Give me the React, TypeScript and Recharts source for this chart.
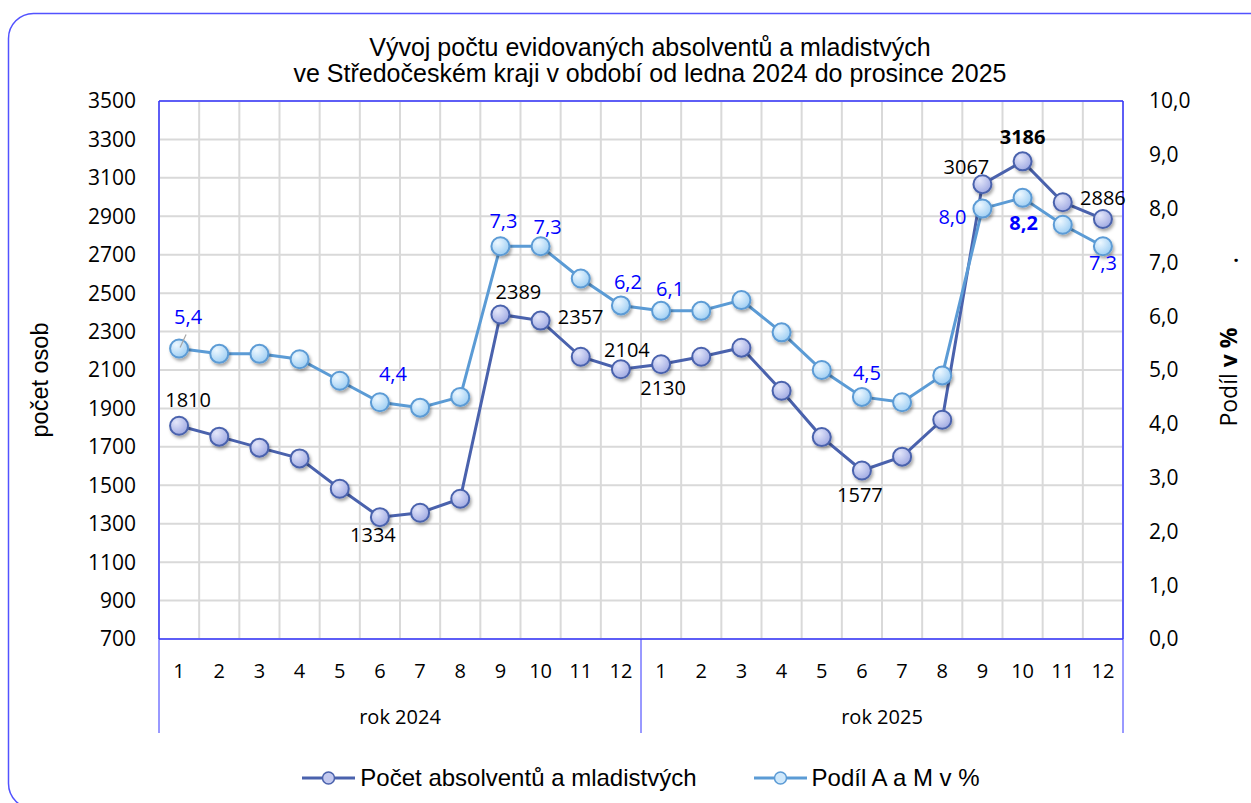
import React from 'react'
import {
  ComposedChart,
  Line,
  XAxis,
  YAxis,
  CartesianGrid,
  Legend,
  LabelList,
  ReferenceLine,
  Customized,
} from 'recharts'

// data
const months = ['1', '2', '3', '4', '5', '6', '7', '8', '9', '10', '11', '12', '1', '2', '3', '4', '5', '6', '7', '8', '9', '10', '11', '12']
const years = ['rok 2024', 'rok 2025']
const graduates = [1810, 1753, 1696, 1640, 1482, 1334, 1357, 1430, 2389, 2357, 2169, 2104, 2130, 2169, 2216, 1992, 1751, 1577, 1649, 1841, 3067, 3186, 2973, 2886]
const sharePct = [5.4, 5.3, 5.3, 5.2, 4.8, 4.4, 4.3, 4.5, 7.3, 7.3, 6.7, 6.2, 6.1, 6.1, 6.3, 5.7, 5.0, 4.5, 4.4, 4.9, 8.0, 8.2, 7.7, 7.3]
const countTicks = [700, 900, 1100, 1300, 1500, 1700, 1900, 2100, 2300, 2500, 2700, 2900, 3100, 3300, 3500]
const shareTicks = [0, 1, 2, 3, 4, 5, 6, 7, 8, 9, 10]

const chartData = months.map((m, i) => ({ idx: i, month: m, count: graduates[i], share: sharePct[i] }))

// label placement (dx, dy from the marker), bold flag
const countLabelPos: Record<number, [number, number, boolean?]> = {
  0: [9, -26], 5: [-7, 18], 8: [18, -22], 9: [40, -4], 11: [6, -19],
  12: [2, 24], 17: [-2, 25], 20: [-16, -17], 21: [0, -24, true], 23: [0, -21],
}
const shareLabelPos: Record<number, [number, number, boolean?]> = {
  0: [9, -31], 5: [13, -28], 8: [3, -25], 9: [7, -19], 11: [7, -23],
  12: [9, -22], 17: [5, -24], 20: [-30, 8], 21: [1, 25, true], 23: [0, 17],
}

const W = 1251
const H = 803
const PLOT_LEFT = 159
const PLOT_RIGHT = 1123
const PLOT_TOP = 101
const PLOT_BOTTOM = 639
const BAND = (PLOT_RIGHT - PLOT_LEFT) / months.length

const ARIAL = '"Liberation Sans", Arial, sans-serif'
const CALIBRI = '"Open Sans", "Noto Sans", sans-serif'
const BLUE_LINE = '#3535ff'
const COUNT_COLOR = '#4a62ad'
const SHARE_COLOR = '#5b9bd5'

function makeLabel(pos: Record<number, [number, number, boolean?]>, color: string, fmt: (v: number) => string) {
  return (props: any) => {
    const { x, y, value, index } = props
    const p = pos[index]
    if (!p) return null
    const [dx, dy, bold] = p
    return (
      <g>
        {index === 0 && color !== '#000' && (
          <line x1={x + 1} y1={y - 1} x2={x + 7} y2={y - 14} stroke="#a6a6a6" strokeWidth={1.2} />
        )}
        <text
          x={x + dx}
          y={y + dy + 7}
          textAnchor="middle"
          fill={color}
          fontFamily={CALIBRI}
          fontSize={20}
          fontWeight={bold ? 700 : 400}
        >
          {fmt(value)}
        </text>
      </g>
    )
  }
}

const comma = (v: number) => v.toFixed(1).replace('.', ',')

function MonthTick(props: any) {
  const { x, y, payload } = props
  const i = payload.index
  const boxBottom = PLOT_BOTTOM + 94
  return (
    <g>
      <text x={x} y={y + 39} textAnchor="middle" fontFamily={CALIBRI} fontSize={20} fill="#000">
        {payload.value}
      </text>
      {i % 12 === 5 && (
        <text x={x + BAND / 2} y={y + 85} textAnchor="middle" fontFamily={CALIBRI} fontSize={20} fill="#000">
          {years[Math.floor(i / 12)]}
        </text>
      )}
      {i === 0 && <line x1={x - BAND / 2} y1={y} x2={x - BAND / 2} y2={boxBottom} stroke={BLUE_LINE} strokeWidth={1} />}
      {i % 12 === 11 && <line x1={x + BAND / 2} y1={y} x2={x + BAND / 2} y2={boxBottom} stroke={BLUE_LINE} strokeWidth={1} />}
    </g>
  )
}

function Decor() {
  return (
    <g>
      <rect x={8.5} y={13.5} width={1270} height={795} rx={25} ry={25} fill="none" stroke="#5252ff" strokeWidth={1.5} />
      <text x={650} y={56} textAnchor="middle" fontFamily={ARIAL} fontSize={25} fill="#000">
        Vývoj počtu evidovaných absolventů a mladistvých
      </text>
      <text x={650} y={82} textAnchor="middle" fontFamily={ARIAL} fontSize={25} fill="#000">
        ve Středočeském kraji v období od ledna 2024 do prosince 2025
      </text>
      <text
        transform="translate(48 380) rotate(-90)"
        textAnchor="middle"
        fontFamily={ARIAL}
        fontSize={23.5}
        fill="#000"
      >
        počet osob
      </text>
      <text
        transform="translate(1237 377) rotate(-90)"
        textAnchor="middle"
        fontFamily={CALIBRI}
        fontSize={23}
        fill="#000"
      >
        Podíl <tspan fontWeight={700}>v %</tspan>
      </text>
      <text x={1236} y={262} textAnchor="middle" fontFamily={CALIBRI} fontSize={20} fontWeight={700} fill="#000">
        .
      </text>
    </g>
  )
}

function LegendIcon({ color, fill }: { color: string; fill: string }) {
  return (
    <svg width={53} height={16} style={{ display: 'block' }}>
      <line x1={0} y1={8} x2={53} y2={8} stroke={color} strokeWidth={3} />
      <circle cx={26.5} cy={8} r={6} fill={fill} stroke={color} strokeWidth={1.5} />
    </svg>
  )
}

function LegendContent() {
  const items = [
    { label: 'Počet absolventů a mladistvých', color: COUNT_COLOR, fill: '#c3c9ef' },
    { label: 'Podíl A a M v %', color: SHARE_COLOR, fill: '#cfe8fb' },
  ]
  return (
    <div style={{ display: 'flex', justifyContent: 'center', alignItems: 'center', gap: 57, height: 40 }}>
      {items.map((it) => (
        <div key={it.label} style={{ display: 'flex', alignItems: 'center', gap: 5 }}>
          <LegendIcon color={it.color} fill={it.fill} />
          <span style={{ fontFamily: ARIAL, fontSize: 24, color: '#000', whiteSpace: 'nowrap' }}>{it.label}</span>
        </div>
      ))}
    </div>
  )
}

export default function App() {
  return (
    <div style={{ position: 'absolute', left: 0, top: 0, width: W, height: H, background: '#fff' }}>
      <ComposedChart
        width={W}
        height={H}
        data={chartData}
        margin={{ top: PLOT_TOP, right: W - PLOT_RIGHT - 80, left: PLOT_LEFT - 80, bottom: 5 }}
      >
        <defs>
          <radialGradient id="countDot" cx="35%" cy="30%" r="75%">
            <stop offset="0%" stopColor="#e4e7fa" />
            <stop offset="100%" stopColor="#9ea8e2" />
          </radialGradient>
          <radialGradient id="shareDot" cx="35%" cy="30%" r="75%">
            <stop offset="0%" stopColor="#eef8ff" />
            <stop offset="100%" stopColor="#9ccdf3" />
          </radialGradient>
          <filter id="dotShadow" x="-50%" y="-50%" width="200%" height="200%">
            <feDropShadow dx={1.5} dy={2.5} stdDeviation={1.5} floodColor="#000" floodOpacity={0.35} />
          </filter>
        </defs>
        <CartesianGrid
          yAxisId="left"
          stroke="#d9d9d9"
          strokeWidth={2}
          verticalCoordinatesGenerator={({ offset }: any) =>
            Array.from({ length: months.length + 1 }, (_, i) => offset.left + (i * offset.width) / months.length)
          }
        />
        <XAxis
          dataKey="month"
          interval={0}
          height={119}
          padding={{ left: BAND / 2, right: BAND / 2 }}
          tickLine={false}
          tickSize={0}
          tickMargin={0}
          axisLine={{ stroke: BLUE_LINE, strokeWidth: 1.5 }}
          tick={<MonthTick />}
        />
        <YAxis
          yAxisId="left"
          width={80}
          domain={[700, 3500]}
          ticks={countTicks}
          interval={0}
          tickLine={false}
          tickSize={0}
          tickMargin={23}
          axisLine={{ stroke: BLUE_LINE, strokeWidth: 1.5 }}
          tick={{ fontFamily: CALIBRI, fontSize: 21, fill: '#000' }}
        />
        <YAxis
          yAxisId="right"
          orientation="right"
          width={80}
          domain={[0, 10]}
          ticks={shareTicks}
          interval={0}
          tickLine={false}
          tickSize={0}
          tickMargin={26}
          tickFormatter={comma}
          axisLine={{ stroke: BLUE_LINE, strokeWidth: 1.5 }}
          tick={{ fontFamily: CALIBRI, fontSize: 21, fill: '#000', textAnchor: 'start' }}
        />
        <ReferenceLine yAxisId="left" y={3500} stroke={BLUE_LINE} strokeWidth={1.5} />
        <Legend verticalAlign="bottom" height={40} content={<LegendContent />} />
        <Line
          yAxisId="left"
          dataKey="count"
          type="linear"
          stroke={COUNT_COLOR}
          strokeWidth={3}
          dot={{ r: 9, fill: 'url(#countDot)', stroke: COUNT_COLOR, strokeWidth: 2, filter: 'url(#dotShadow)' }}
          isAnimationActive={false}
        >
          <LabelList dataKey="count" content={makeLabel(countLabelPos, '#000', (v) => String(v))} />
        </Line>
        <Line
          yAxisId="right"
          dataKey="share"
          type="linear"
          stroke={SHARE_COLOR}
          strokeWidth={3}
          dot={{ r: 9, fill: 'url(#shareDot)', stroke: SHARE_COLOR, strokeWidth: 2, filter: 'url(#dotShadow)' }}
          isAnimationActive={false}
        >
          <LabelList dataKey="share" content={makeLabel(shareLabelPos, '#0000ff', comma)} />
        </Line>
        <Customized component={Decor} />
      </ComposedChart>
    </div>
  )
}
